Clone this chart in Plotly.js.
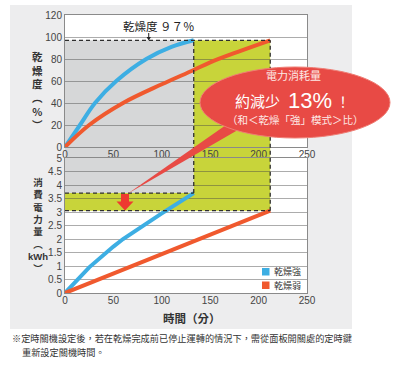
<!DOCTYPE html>
<html><head><meta charset="utf-8">
<script src="https://cdn.plot.ly/plotly-3.0.1.min.js"></script>
<style>html,body{margin:0;padding:0;background:#fff;} #chart{width:400px;height:366px;}</style>
</head><body><div id="chart"></div>
<script>
// ---- data ----
const dryTimeStrong = [0, 15.5, 31, 53, 84, 110, 133];
const dryPctStrong  = [0, 20, 40, 60, 80, 91, 97];
const dryTimeWeak   = [0, 25, 60, 100, 133, 150, 180, 212];
const dryPctWeak    = [0, 20, 40, 57, 70, 77, 87, 97];
const kwhTimeStrong = [0, 25, 50, 60, 100, 133];
const kwhStrong     = [0, 0.95, 1.72, 2.0, 2.95, 3.7];
const kwhTimeWeak   = [0, 212];
const kwhWeak       = [0, 3.05];
const finishTimes   = [133, 212];   // 乾燥強 / 乾燥弱 finish (min)
const finishKwh     = [3.7, 3.05];  // energy at finish (kWh)
const targetPct     = 97;
const arrowTime     = 62;
const labelArrowTime = 86.5;
const xTickVals     = [0, 50, 100, 150, 200, 250];
const seriesNames   = ['乾燥強', '乾燥弱'];
const topTitle = '乾<br>燥<br>度<br>︵<br>%<br>︶';
const botTitle = '消<br>費<br>電<br>力<br>量<br>︵<br>kWh<br>︶';
const xTitle = '時間（分）';
const targetLabel = '乾燥度 ９７％';
const callout = ['電力消耗量', '約減少', '13%', '！', '（和＜乾燥「強」模式＞比）'];
const footnote = ['※定時關機設定後，若在乾燥完成前已停止運轉的情況下，需從面板開關處的定時鍵', '重新設定關機時間。'];

// ---- geometry ----
const W = 400, H = 366, L = 65, R = 93, T = 15, B = 73;
const plotW = W - L - R, plotH = H - T - B;
const topDom = [(293 - 147) / plotH, 1];
const botDom = [0, (293 - 158) / plotH];
const px = v => (v - L) / plotW;
const py = v => (H - B - v) / plotH;
const topY = v => topDom[0] + (topDom[1] - topDom[0]) * v / 120;
const botY = v => botDom[0] + (botDom[1] - botDom[0]) * v / 5;

const BLUE = '#3daee3', RED = '#f0592e', GRAY = '#d6d7d8', YEL = '#c8d43a', DASH = '#2e2e2e';
const FONT = 'Liberation Sans, Arial, Noto Sans CJK TC, sans-serif';
const CJK = 'Noto Sans CJK TC, sans-serif';

const traces = [
  {x: dryTimeStrong, y: dryPctStrong, xaxis: 'x', yaxis: 'y', mode: 'lines', line: {color: BLUE, width: 4, shape: 'spline'}, name: seriesNames[0], showlegend: false, hoverinfo: 'skip'},
  {x: dryTimeWeak, y: dryPctWeak, xaxis: 'x', yaxis: 'y', mode: 'lines', line: {color: RED, width: 4, shape: 'spline'}, name: seriesNames[1], showlegend: false, hoverinfo: 'skip'},
  {x: kwhTimeStrong, y: kwhStrong, xaxis: 'x2', yaxis: 'y2', mode: 'lines', line: {color: BLUE, width: 4}, name: seriesNames[0], showlegend: false, hoverinfo: 'skip'},
  {x: kwhTimeWeak, y: kwhWeak, xaxis: 'x2', yaxis: 'y2', mode: 'lines', line: {color: RED, width: 4}, name: seriesNames[1], showlegend: false, hoverinfo: 'skip'}
];

const t1 = finishTimes[0], t2 = finishTimes[1];
const k1 = finishKwh[0], k2 = finishKwh[1];
const noLine = {width: 0};
const dashLine = {color: DASH, width: 1.3, dash: '4px,3px'};

const shapes = [
  {type: 'rect', xref: 'paper', yref: 'paper', x0: px(10), x1: px(352), y0: py(329), y1: py(5), fillcolor: '#ededee', line: noLine, layer: 'below'},
  {type: 'rect', xref: 'paper', yref: 'paper', x0: 0, x1: 1, y0: 0, y1: 1, fillcolor: '#ffffff', line: noLine, layer: 'below'},
  {type: 'rect', xref: 'x', yref: 'paper', x0: 0, x1: t1, y0: botDom[1], y1: topDom[0], fillcolor: GRAY, line: noLine, layer: 'below'},
  {type: 'rect', xref: 'x', yref: 'paper', x0: t1, x1: t2, y0: botDom[1], y1: topDom[0], fillcolor: YEL, line: noLine, layer: 'below'},
  {type: 'rect', xref: 'x', yref: 'y', x0: 0, x1: t1, y0: 0, y1: targetPct, fillcolor: GRAY, line: noLine, layer: 'below'},
  {type: 'rect', xref: 'x', yref: 'y', x0: t1, x1: t2, y0: 0, y1: targetPct, fillcolor: YEL, line: noLine, layer: 'below'},
  {type: 'rect', xref: 'x2', yref: 'y2', x0: 0, x1: t1, y0: k1, y1: 5, fillcolor: GRAY, line: noLine, layer: 'below'},
  {type: 'rect', xref: 'x2', yref: 'y2', x0: 0, x1: t2, y0: k2, y1: k1, fillcolor: YEL, line: noLine, layer: 'below'},
  {type: 'rect', xref: 'x2', yref: 'y2', x0: t1, x1: t2, y0: k1, y1: 5, fillcolor: YEL, line: noLine, layer: 'below'},
  {type: 'line', xref: 'x', yref: 'y', x0: 0, x1: t2, y0: targetPct, y1: targetPct, line: dashLine},
  {type: 'line', xref: 'x', yref: 'paper', x0: t1, x1: t1, y0: botY(k1), y1: topY(targetPct), line: dashLine},
  {type: 'line', xref: 'x', yref: 'paper', x0: t2, x1: t2, y0: botY(k2), y1: topY(targetPct), line: dashLine},
  {type: 'line', xref: 'x2', yref: 'y2', x0: 0, x1: t1, y0: k1, y1: k1, line: dashLine},
  {type: 'line', xref: 'x2', yref: 'y2', x0: 0, x1: t2, y0: k2, y1: k2, line: dashLine},
];

(function(){
  const ax = L + labelArrowTime * plotW / 250;
  shapes.push({type: 'line', xref: 'paper', yref: 'paper', x0: px(ax), x1: px(ax), y0: py(33), y1: py(38), line: {color: '#222', width: 1}});
  shapes.push({type: 'path', xref: 'paper', yref: 'paper', path: `M ${px(ax-2.2)} ${py(37)} L ${px(ax+2.2)} ${py(37)} L ${px(ax)} ${py(40.5)} Z`, fillcolor: '#222', line: noLine});
})();

(function(){
  const cx = L + arrowTime * plotW / 250;
  const p = `M ${px(cx-4)} ${py(194)} L ${px(cx+4)} ${py(194)} L ${px(cx+4)} ${py(201.5)} L ${px(cx+8.5)} ${py(201.5)} L ${px(cx)} ${py(210.5)} L ${px(cx-8.5)} ${py(201.5)} L ${px(cx-4)} ${py(201.5)} Z`;
  shapes.push({type: 'path', xref: 'paper', yref: 'paper', path: p, fillcolor: '#ee3b30', line: noLine});
})();

const ECX = 295, ECY = 102.5, ERX = 95, ERY = 35.5;
shapes.push({type: 'path', xref: 'paper', yref: 'paper', path: `M ${px(128)} ${py(193.5)} L ${px(243)} ${py(127)} L ${px(236)} ${py(118)} Z`, fillcolor: '#e84a45', line: noLine});
shapes.push({type: 'circle', xref: 'paper', yref: 'paper', x0: px(ECX-ERX), x1: px(ECX+ERX), y0: py(ECY+ERY), y1: py(ECY-ERY), fillcolor: '#e84a45', line: {color: '#ef7d74', width: 1}});

shapes.push({type: 'rect', xref: 'paper', yref: 'paper', x0: px(262), x1: px(269.5), y0: py(275.5), y1: py(268), fillcolor: BLUE, line: noLine});
shapes.push({type: 'rect', xref: 'paper', yref: 'paper', x0: px(262), x1: px(269.5), y0: py(289), y1: py(281.5), fillcolor: RED, line: noLine});

const ann = [];
const A = (text, x, y, font, extra) => ann.push(Object.assign({text, xref: 'paper', yref: 'paper', x: px(x), y: py(y), showarrow: false, xanchor: 'center', yanchor: 'middle', font}, extra || {}));

A(topTitle, 37.7, 90, {family: CJK, size: 10.5, color: '#333', weight: 'bold'});
A(botTitle, 37.7, 226, {family: FONT, size: 9.5, color: '#333', weight: 'bold'});
A(xTitle, 192, 318, {family: CJK, size: 11.5, color: '#333', weight: 'bold'});
A(targetLabel, 159, 26, {family: CJK, size: 11.5, color: '#222'});

// callout texts
A(callout[0], 293, 75, {family: CJK, size: 11, color: '#fde9e6'});
A(callout[1], 257, 100.5, {family: CJK, size: 15, color: '#ffffff'});
A(callout[2], 310, 100, {family: FONT, size: 22, color: '#ffffff'});
A(callout[3], 343, 100.5, {family: CJK, size: 14, color: '#ffffff'});
A(callout[4], 295, 119.5, {family: CJK, size: 10.5, color: '#fde9e6'});

A(seriesNames[0], 272, 271.5, {family: CJK, size: 9, color: '#333'}, {xanchor: 'left'});
A(seriesNames[1], 272, 285.5, {family: CJK, size: 9, color: '#333'}, {xanchor: 'left'});

A(footnote[0], 10, 337.5, {family: CJK, size: 9.2, color: '#333'}, {xanchor: 'left'});
A(footnote[1], 19.5, 352, {family: CJK, size: 9.2, color: '#333'}, {xanchor: 'left'});

const tickFont = {family: FONT, size: 10, color: '#444'};
const axBase = {showline: true, mirror: true, linecolor: '#8a8a8a', linewidth: 1, zeroline: false, fixedrange: true, tickfont: tickFont};
const xAx = {range: [0, 250], tickvals: xTickVals, showgrid: false, ticks: '', ticklabelstandoff: -2};
const layout = {
  width: W, height: H,
  margin: {l: L, r: R, t: T, b: B, pad: 0},
  paper_bgcolor: '#ffffff', plot_bgcolor: 'rgba(0,0,0,0)',
  showlegend: false,
  xaxis: Object.assign({}, axBase, xAx, {domain: [0, 1], anchor: 'y'}),
  yaxis: Object.assign({}, axBase, {domain: topDom, anchor: 'x', range: [0, 120], dtick: 20, showgrid: true, gridcolor: 'rgba(70,70,70,0.45)', ticks: ''}),
  xaxis2: Object.assign({}, axBase, xAx, {domain: [0, 1], anchor: 'y2'}),
  yaxis2: Object.assign({}, axBase, {domain: botDom, anchor: 'x2', range: [0, 5], dtick: 0.5, showgrid: true, gridcolor: 'rgba(70,70,70,0.45)', ticks: ''}),
  shapes, annotations: ann
};
Plotly.newPlot('chart', traces, layout, {staticPlot: true, displayModeBar: false});
</script></body></html>
